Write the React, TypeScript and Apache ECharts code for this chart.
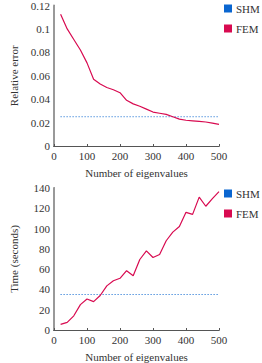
import React, { useEffect, useRef } from "react";
import * as echarts from "echarts";

const eigenCounts = [20, 40, 60, 80, 100, 120, 140, 160, 180, 200, 220, 240, 260, 280, 300, 320, 340, 360, 380, 400, 420, 440, 460, 480, 500];
const femRelError = [0.1125, 0.1, 0.091, 0.082, 0.071, 0.057, 0.053, 0.05, 0.048, 0.0455, 0.039, 0.036, 0.034, 0.0315, 0.029, 0.028, 0.027, 0.025, 0.023, 0.022, 0.0215, 0.021, 0.0205, 0.0195, 0.0185];
const femTime = [5.5, 7.5, 14, 25, 30.5, 28, 34, 43.5, 48.5, 51, 58.5, 53.5, 69.5, 78, 71.5, 74.5, 88, 96.5, 102, 116, 114, 131, 122, 129.5, 136.5];
const shmRelError = 0.025;
const shmTime = 35;
const seriesNames = ["SHM", "FEM"];
const xTicks = { min: 0, max: 500, interval: 100 };
const errTicks = { min: 0, max: 0.12, interval: 0.02 };
const timeTicks = { min: 0, max: 140, interval: 20 };

const FONT = "Liberation Serif";
const TEXT = "#333";
const BLUE = "#0a66d0";
const RED = "#d80a50";

export default function App() {
  const ref = useRef<HTMLDivElement>(null);
  useEffect(() => {
    if (!ref.current) return;
    const chart = echarts.init(ref.current, null, { renderer: "svg" });
    const first = eigenCounts[0];
    const last = eigenCounts[eigenCounts.length - 1];
    const grids = [
      { left: 37, right: 43, top: 5, height: 141 },
      { left: 37, right: 43, top: 188, height: 144 },
    ];
    const bottomX = (gi: number) => ({
      type: "value" as const,
      gridIndex: gi,
      ...xTicks,
      name: "Number of eigenvalues",
      nameLocation: "middle" as const,
      nameGap: 21,
      nameTextStyle: { fontFamily: FONT, fontSize: 11, color: TEXT },
      axisLine: { show: true, lineStyle: { color: "#333", width: 1 } },
      axisTick: { show: true, inside: true, length: 2, lineStyle: { color: "#555" } },
      axisLabel: { fontFamily: FONT, fontSize: 11, color: TEXT, margin: 4 },
      splitLine: { show: false },
    });
    const topX = (gi: number) => ({
      type: "value" as const,
      gridIndex: gi,
      position: "top" as const,
      ...xTicks,
      axisLine: { show: true, lineStyle: { color: "#555", width: 1 } },
      axisTick: { show: false },
      axisLabel: { show: false },
      splitLine: { show: false },
    });
    const leftY = (gi: number, ticks: any, name: string) => ({
      type: "value" as const,
      gridIndex: gi,
      ...ticks,
      name,
      nameLocation: "middle" as const,
      nameGap: 35,
      nameTextStyle: { fontFamily: FONT, fontSize: 11, color: TEXT },
      axisLine: { show: true, lineStyle: { color: "#333", width: 1 } },
      axisTick: { show: false },
      axisLabel: { fontFamily: FONT, fontSize: 11, color: TEXT, margin: 4 },
      splitLine: { show: false },
    });
    const rightY = (gi: number, ticks: any) => ({
      type: "value" as const,
      gridIndex: gi,
      position: "right" as const,
      ...ticks,
      axisLine: { show: true, lineStyle: { color: "#999", width: 2 } },
      axisTick: { show: false },
      axisLabel: { show: false },
      splitLine: { show: false },
    });
    const legend = (top: number) => ({
      data: seriesNames,
      orient: "vertical" as const,
      left: 224,
      top,
      padding: 0,
      icon: "rect",
      itemWidth: 8,
      itemHeight: 8,
      itemGap: 9,
      textStyle: { fontFamily: FONT, fontSize: 11, color: TEXT, padding: [0, 0, 0, -1] },
      selectedMode: false,
    });
    chart.setOption({
      animation: false,
      grid: grids,
      legend: [legend(3), legend(188)],
      xAxis: [bottomX(0), topX(0), bottomX(1), topX(1)],
      yAxis: [
        leftY(0, errTicks, "Relative error"),
        rightY(0, errTicks),
        leftY(1, timeTicks, "Time (seconds)"),
        rightY(1, timeTicks),
      ],
      series: [
        {
          name: seriesNames[0], type: "line", xAxisIndex: 0, yAxisIndex: 0,
          data: [[first, shmRelError], [last, shmRelError]],
          showSymbol: false, itemStyle: { color: BLUE },
          lineStyle: { color: BLUE, width: 1, type: [1, 2] },
        },
        {
          name: seriesNames[1], type: "line", xAxisIndex: 0, yAxisIndex: 0,
          data: eigenCounts.map((x, i) => [x, femRelError[i]]),
          showSymbol: false, itemStyle: { color: RED },
          lineStyle: { color: RED, width: 1.2 },
        },
        {
          name: seriesNames[0], type: "line", xAxisIndex: 2, yAxisIndex: 2,
          data: [[first, shmTime], [last, shmTime]],
          showSymbol: false, itemStyle: { color: BLUE },
          lineStyle: { color: BLUE, width: 1, type: [1, 2] },
        },
        {
          name: seriesNames[1], type: "line", xAxisIndex: 2, yAxisIndex: 2,
          data: eigenCounts.map((x, i) => [x, femTime[i]]),
          showSymbol: false, itemStyle: { color: RED },
          lineStyle: { color: RED, width: 1.2 },
        },
      ],
    });
    return () => chart.dispose();
  }, []);
  return (
    <div
      ref={ref}
      style={{ position: "fixed", left: 0, top: 0, width: 262, height: 363, background: "#fff" }}
    />
  );
}
